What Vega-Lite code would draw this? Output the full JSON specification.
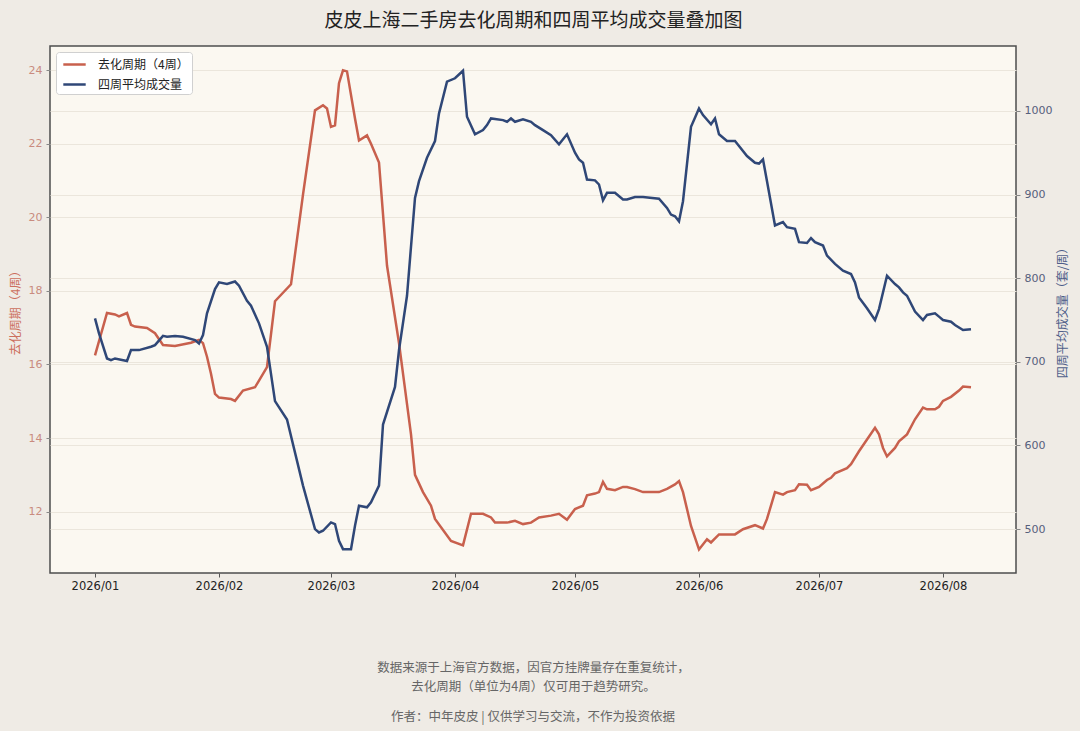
{
  "$schema": "https://vega.github.io/schema/vega-lite/v6.json",
  "width": 966,
  "height": 527,
  "autosize": {"type": "none"},
  "padding": {"left": 50, "top": 46, "right": 64, "bottom": 158},
  "background": "#efebe5",
  "title": {
    "text": "作者：中年皮皮 | 仅供学习与交流，不作为投资依据",
    "orient": "bottom",
    "frame": "group",
    "anchor": "middle",
    "offset": 18,
    "font": "Noto Sans CJK SC",
    "fontSize": 12.5,
    "fontWeight": "normal",
    "color": "#666666"
  },
  "datasets": {
    "cycle": [
      {"date": "2026-01-01", "v": 16.25}, {"date": "2026-01-04", "v": 17.40}, {"date": "2026-01-06", "v": 17.36},
      {"date": "2026-01-07", "v": 17.31}, {"date": "2026-01-09", "v": 17.40}, {"date": "2026-01-10", "v": 17.08},
      {"date": "2026-01-11", "v": 17.03}, {"date": "2026-01-14", "v": 16.99}, {"date": "2026-01-16", "v": 16.85},
      {"date": "2026-01-18", "v": 16.53}, {"date": "2026-01-21", "v": 16.50}, {"date": "2026-01-25", "v": 16.59},
      {"date": "2026-01-27", "v": 16.67}, {"date": "2026-01-28", "v": 16.58}, {"date": "2026-01-29", "v": 16.21},
      {"date": "2026-01-30", "v": 15.75}, {"date": "2026-01-31", "v": 15.20}, {"date": "2026-02-01", "v": 15.10},
      {"date": "2026-02-04", "v": 15.06}, {"date": "2026-02-05", "v": 15.01}, {"date": "2026-02-07", "v": 15.29},
      {"date": "2026-02-10", "v": 15.38}, {"date": "2026-02-11", "v": 15.56}, {"date": "2026-02-13", "v": 15.93},
      {"date": "2026-02-15", "v": 17.72}, {"date": "2026-02-19", "v": 18.18}, {"date": "2026-02-22", "v": 20.62},
      {"date": "2026-02-25", "v": 22.91}, {"date": "2026-02-27", "v": 23.05}, {"date": "2026-02-28", "v": 22.96},
      {"date": "2026-03-01", "v": 22.46}, {"date": "2026-03-02", "v": 22.50}, {"date": "2026-03-03", "v": 23.65},
      {"date": "2026-03-04", "v": 24.00}, {"date": "2026-03-05", "v": 23.97}, {"date": "2026-03-07", "v": 22.69},
      {"date": "2026-03-08", "v": 22.09}, {"date": "2026-03-10", "v": 22.23}, {"date": "2026-03-11", "v": 22.00},
      {"date": "2026-03-13", "v": 21.49}, {"date": "2026-03-15", "v": 18.69}, {"date": "2026-03-18", "v": 16.58},
      {"date": "2026-03-21", "v": 14.10}, {"date": "2026-03-22", "v": 13.00}, {"date": "2026-03-24", "v": 12.53},
      {"date": "2026-03-26", "v": 12.16}, {"date": "2026-03-27", "v": 11.80}, {"date": "2026-03-31", "v": 11.20},
      {"date": "2026-04-03", "v": 11.08}, {"date": "2026-04-05", "v": 11.94}, {"date": "2026-04-08", "v": 11.94},
      {"date": "2026-04-10", "v": 11.84}, {"date": "2026-04-11", "v": 11.70}, {"date": "2026-04-14", "v": 11.70},
      {"date": "2026-04-16", "v": 11.75}, {"date": "2026-04-18", "v": 11.66}, {"date": "2026-04-20", "v": 11.70},
      {"date": "2026-04-22", "v": 11.84}, {"date": "2026-04-25", "v": 11.89}, {"date": "2026-04-27", "v": 11.94},
      {"date": "2026-04-29", "v": 11.78}, {"date": "2026-05-01", "v": 12.07}, {"date": "2026-05-03", "v": 12.16},
      {"date": "2026-05-04", "v": 12.44}, {"date": "2026-05-06", "v": 12.49}, {"date": "2026-05-07", "v": 12.53},
      {"date": "2026-05-08", "v": 12.81}, {"date": "2026-05-09", "v": 12.62}, {"date": "2026-05-11", "v": 12.58},
      {"date": "2026-05-13", "v": 12.67}, {"date": "2026-05-14", "v": 12.67}, {"date": "2026-05-16", "v": 12.61},
      {"date": "2026-05-18", "v": 12.53}, {"date": "2026-05-22", "v": 12.53}, {"date": "2026-05-24", "v": 12.62},
      {"date": "2026-05-26", "v": 12.74}, {"date": "2026-05-27", "v": 12.83}, {"date": "2026-05-28", "v": 12.53},
      {"date": "2026-05-30", "v": 11.61}, {"date": "2026-05-31", "v": 11.29}, {"date": "2026-06-01", "v": 10.97},
      {"date": "2026-06-03", "v": 11.25}, {"date": "2026-06-04", "v": 11.16}, {"date": "2026-06-06", "v": 11.38},
      {"date": "2026-06-07", "v": 11.38}, {"date": "2026-06-10", "v": 11.38}, {"date": "2026-06-12", "v": 11.52},
      {"date": "2026-06-15", "v": 11.63}, {"date": "2026-06-17", "v": 11.54}, {"date": "2026-06-18", "v": 11.80},
      {"date": "2026-06-20", "v": 12.53}, {"date": "2026-06-22", "v": 12.46}, {"date": "2026-06-23", "v": 12.53},
      {"date": "2026-06-25", "v": 12.58}, {"date": "2026-06-26", "v": 12.74}, {"date": "2026-06-28", "v": 12.73},
      {"date": "2026-06-29", "v": 12.58}, {"date": "2026-07-01", "v": 12.67}, {"date": "2026-07-03", "v": 12.86},
      {"date": "2026-07-04", "v": 12.92}, {"date": "2026-07-05", "v": 13.04}, {"date": "2026-07-08", "v": 13.18},
      {"date": "2026-07-09", "v": 13.29}, {"date": "2026-07-11", "v": 13.64}, {"date": "2026-07-13", "v": 13.96},
      {"date": "2026-07-15", "v": 14.28}, {"date": "2026-07-16", "v": 14.10}, {"date": "2026-07-17", "v": 13.73},
      {"date": "2026-07-18", "v": 13.50}, {"date": "2026-07-20", "v": 13.73}, {"date": "2026-07-21", "v": 13.91},
      {"date": "2026-07-23", "v": 14.10}, {"date": "2026-07-25", "v": 14.51}, {"date": "2026-07-27", "v": 14.83},
      {"date": "2026-07-28", "v": 14.78}, {"date": "2026-07-30", "v": 14.78}, {"date": "2026-07-31", "v": 14.85},
      {"date": "2026-08-01", "v": 15.01}, {"date": "2026-08-03", "v": 15.12}, {"date": "2026-08-05", "v": 15.29},
      {"date": "2026-08-06", "v": 15.40}, {"date": "2026-08-08", "v": 15.38}
    ],
    "volume": [
      {"date": "2026-01-01", "v": 752}, {"date": "2026-01-02", "v": 734}, {"date": "2026-01-04", "v": 704},
      {"date": "2026-01-05", "v": 702}, {"date": "2026-01-06", "v": 704}, {"date": "2026-01-09", "v": 701},
      {"date": "2026-01-10", "v": 714}, {"date": "2026-01-12", "v": 714}, {"date": "2026-01-15", "v": 718},
      {"date": "2026-01-16", "v": 720}, {"date": "2026-01-18", "v": 731}, {"date": "2026-01-19", "v": 730},
      {"date": "2026-01-21", "v": 731}, {"date": "2026-01-23", "v": 730}, {"date": "2026-01-26", "v": 726},
      {"date": "2026-01-27", "v": 722}, {"date": "2026-01-28", "v": 732}, {"date": "2026-01-29", "v": 758},
      {"date": "2026-01-31", "v": 787}, {"date": "2026-02-01", "v": 795}, {"date": "2026-02-03", "v": 793},
      {"date": "2026-02-05", "v": 796}, {"date": "2026-02-06", "v": 791}, {"date": "2026-02-08", "v": 773},
      {"date": "2026-02-09", "v": 767}, {"date": "2026-02-11", "v": 746}, {"date": "2026-02-13", "v": 718},
      {"date": "2026-02-15", "v": 653}, {"date": "2026-02-18", "v": 631}, {"date": "2026-02-22", "v": 552},
      {"date": "2026-02-25", "v": 500}, {"date": "2026-02-26", "v": 496}, {"date": "2026-02-27", "v": 498},
      {"date": "2026-03-01", "v": 508}, {"date": "2026-03-02", "v": 506}, {"date": "2026-03-03", "v": 486},
      {"date": "2026-03-04", "v": 476}, {"date": "2026-03-06", "v": 476}, {"date": "2026-03-07", "v": 504},
      {"date": "2026-03-08", "v": 528}, {"date": "2026-03-10", "v": 526}, {"date": "2026-03-11", "v": 532},
      {"date": "2026-03-13", "v": 552}, {"date": "2026-03-14", "v": 625}, {"date": "2026-03-17", "v": 670},
      {"date": "2026-03-18", "v": 714}, {"date": "2026-03-20", "v": 779}, {"date": "2026-03-22", "v": 896},
      {"date": "2026-03-23", "v": 916}, {"date": "2026-03-25", "v": 944}, {"date": "2026-03-27", "v": 964},
      {"date": "2026-03-28", "v": 997}, {"date": "2026-03-30", "v": 1035}, {"date": "2026-04-01", "v": 1039},
      {"date": "2026-04-03", "v": 1048}, {"date": "2026-04-04", "v": 993}, {"date": "2026-04-06", "v": 972},
      {"date": "2026-04-08", "v": 977}, {"date": "2026-04-09", "v": 983}, {"date": "2026-04-10", "v": 991},
      {"date": "2026-04-13", "v": 989}, {"date": "2026-04-14", "v": 987}, {"date": "2026-04-15", "v": 991},
      {"date": "2026-04-16", "v": 987}, {"date": "2026-04-18", "v": 990}, {"date": "2026-04-20", "v": 987},
      {"date": "2026-04-21", "v": 983}, {"date": "2026-04-23", "v": 977}, {"date": "2026-04-25", "v": 971},
      {"date": "2026-04-27", "v": 960}, {"date": "2026-04-29", "v": 972}, {"date": "2026-05-01", "v": 950},
      {"date": "2026-05-02", "v": 942}, {"date": "2026-05-03", "v": 938}, {"date": "2026-05-04", "v": 918},
      {"date": "2026-05-06", "v": 917}, {"date": "2026-05-07", "v": 912}, {"date": "2026-05-08", "v": 893},
      {"date": "2026-05-09", "v": 902}, {"date": "2026-05-11", "v": 902}, {"date": "2026-05-13", "v": 894},
      {"date": "2026-05-14", "v": 894}, {"date": "2026-05-16", "v": 897}, {"date": "2026-05-18", "v": 897},
      {"date": "2026-05-22", "v": 895}, {"date": "2026-05-24", "v": 884}, {"date": "2026-05-25", "v": 876},
      {"date": "2026-05-26", "v": 874}, {"date": "2026-05-27", "v": 868}, {"date": "2026-05-28", "v": 892},
      {"date": "2026-05-30", "v": 981}, {"date": "2026-06-01", "v": 1003}, {"date": "2026-06-02", "v": 995},
      {"date": "2026-06-04", "v": 984}, {"date": "2026-06-05", "v": 991}, {"date": "2026-06-06", "v": 972},
      {"date": "2026-06-08", "v": 964}, {"date": "2026-06-10", "v": 964}, {"date": "2026-06-11", "v": 958},
      {"date": "2026-06-13", "v": 946}, {"date": "2026-06-15", "v": 938}, {"date": "2026-06-16", "v": 937},
      {"date": "2026-06-17", "v": 942}, {"date": "2026-06-18", "v": 916}, {"date": "2026-06-20", "v": 863},
      {"date": "2026-06-22", "v": 867}, {"date": "2026-06-23", "v": 861}, {"date": "2026-06-25", "v": 859},
      {"date": "2026-06-26", "v": 843}, {"date": "2026-06-28", "v": 842}, {"date": "2026-06-29", "v": 848},
      {"date": "2026-06-30", "v": 843}, {"date": "2026-07-02", "v": 839}, {"date": "2026-07-03", "v": 827},
      {"date": "2026-07-05", "v": 817}, {"date": "2026-07-07", "v": 809}, {"date": "2026-07-09", "v": 805},
      {"date": "2026-07-10", "v": 795}, {"date": "2026-07-11", "v": 777}, {"date": "2026-07-13", "v": 764},
      {"date": "2026-07-15", "v": 750}, {"date": "2026-07-16", "v": 763}, {"date": "2026-07-18", "v": 803},
      {"date": "2026-07-20", "v": 793}, {"date": "2026-07-21", "v": 789}, {"date": "2026-07-22", "v": 783},
      {"date": "2026-07-23", "v": 779}, {"date": "2026-07-25", "v": 760}, {"date": "2026-07-27", "v": 750},
      {"date": "2026-07-28", "v": 756}, {"date": "2026-07-30", "v": 758}, {"date": "2026-07-31", "v": 754},
      {"date": "2026-08-01", "v": 750}, {"date": "2026-08-03", "v": 748}, {"date": "2026-08-04", "v": 744},
      {"date": "2026-08-06", "v": 738}, {"date": "2026-08-08", "v": 739}
    ]
  },
  "layer": [
    {
      "data": {"name": "cycle"},
      "mark": {"type": "line", "strokeWidth": 2.5},
      "encoding": {
        "x": {
          "field": "date",
          "type": "temporal",
          "scale": {
            "type": "utc",
            "domain": [
              {"year": 2025, "month": 12, "date": 20, "hours": 18, "utc": true},
              {"year": 2026, "month": 8, "date": 19, "hours": 6, "utc": true}
            ]
          },
          "axis": {
            "orient": "bottom",
            "format": "%Y/%m",
            "tickCount": {"interval": "month", "step": 1},
            "labelFont": "DejaVu Sans",
            "labelFontSize": 11.5,
            "labelColor": "#222222",
            "tickColor": "#555555",
            "tickSize": 4,
            "labelPadding": 3,
            "domain": false,
            "grid": false,
            "title": [
              "数据来源于上海官方数据，因官方挂牌量存在重复统计，",
              "去化周期（单位为4周）仅可用于趋势研究。"
            ],
            "titleFont": "Noto Sans CJK SC",
            "titleFontSize": 12.5,
            "titleFontWeight": "normal",
            "titleColor": "#666666",
            "titleLineHeight": 19,
            "titlePadding": 70
          }
        },
        "y": {
          "field": "v",
          "type": "quantitative",
          "scale": {"domain": [10.33, 24.66], "nice": false, "zero": false},
          "axis": {
            "orient": "left",
            "values": [12, 14, 16, 18, 20, 22, 24],
            "title": "去化周期（4周）",
            "titleColor": "#cc6f5d",
            "titleFont": "Noto Sans CJK SC",
            "titleFontSize": 12,
            "titleFontWeight": "normal",
            "titlePadding": 6,
            "labelColor": "#c98b7f",
            "labelFont": "DejaVu Sans",
            "labelFontSize": 11,
            "labelPadding": 4,
            "tickColor": "#888888",
            "tickSize": 4,
            "domain": false,
            "grid": true,
            "gridColor": "#ebe6dc",
            "gridWidth": 1
          }
        },
        "color": {
          "datum": "去化周期（4周）",
          "type": "nominal",
          "scale": {
            "domain": ["去化周期（4周）", "四周平均成交量"],
            "range": ["#c8604d", "#2f4777"]
          },
          "legend": {
            "title": null,
            "orient": "top-left",
            "offset": 6,
            "fillColor": "#ffffff",
            "strokeColor": "#d0d0d0",
            "cornerRadius": 3,
            "padding": 3,
            "symbolType": "M-1.4,0H1.4",
            "symbolSize": 256,
            "symbolStrokeWidth": 2.5,
            "symbolOffset": 6,
            "labelFont": "Noto Sans CJK SC",
            "labelFontSize": 12,
            "labelColor": "#222222",
            "labelOffset": 14,
            "rowPadding": 4
          }
        }
      }
    },
    {
      "data": {"name": "volume"},
      "mark": {"type": "line", "strokeWidth": 2.5},
      "encoding": {
        "x": {
          "field": "date",
          "type": "temporal",
          "axis": {
            "orient": "top",
            "labels": false,
            "ticks": false,
            "domain": false,
            "grid": false,
            "title": "皮皮上海二手房去化周期和四周平均成交量叠加图",
            "titleFont": "Noto Sans CJK SC",
            "titleFontSize": 19,
            "titleFontWeight": "normal",
            "titleColor": "#222222",
            "titlePadding": 16
          }
        },
        "y": {
          "field": "v",
          "type": "quantitative",
          "scale": {"domain": [447.5, 1077.6], "nice": false, "zero": false},
          "axis": {
            "orient": "right",
            "values": [500, 600, 700, 800, 900, 1000],
            "format": "d",
            "title": "四周平均成交量（套/周）",
            "titleAngle": 270,
            "titleBaseline": "top",
            "titleColor": "#4f5f8a",
            "titleFont": "Noto Sans CJK SC",
            "titleFontSize": 12,
            "titleFontWeight": "normal",
            "titlePadding": 6,
            "labelColor": "#56607c",
            "labelFont": "DejaVu Sans",
            "labelFontSize": 11,
            "labelPadding": 4,
            "tickColor": "#888888",
            "tickSize": 4,
            "domain": false,
            "grid": true,
            "gridColor": "#ebe6dc",
            "gridWidth": 1
          }
        },
        "color": {"datum": "四周平均成交量", "type": "nominal"}
      }
    }
  ],
  "resolve": {"scale": {"y": "independent"}, "axis": {"x": "independent"}},
  "config": {
    "view": {"fill": "#fbf8f1", "stroke": "#4d4d4d", "strokeWidth": 1.5}
  }
}
